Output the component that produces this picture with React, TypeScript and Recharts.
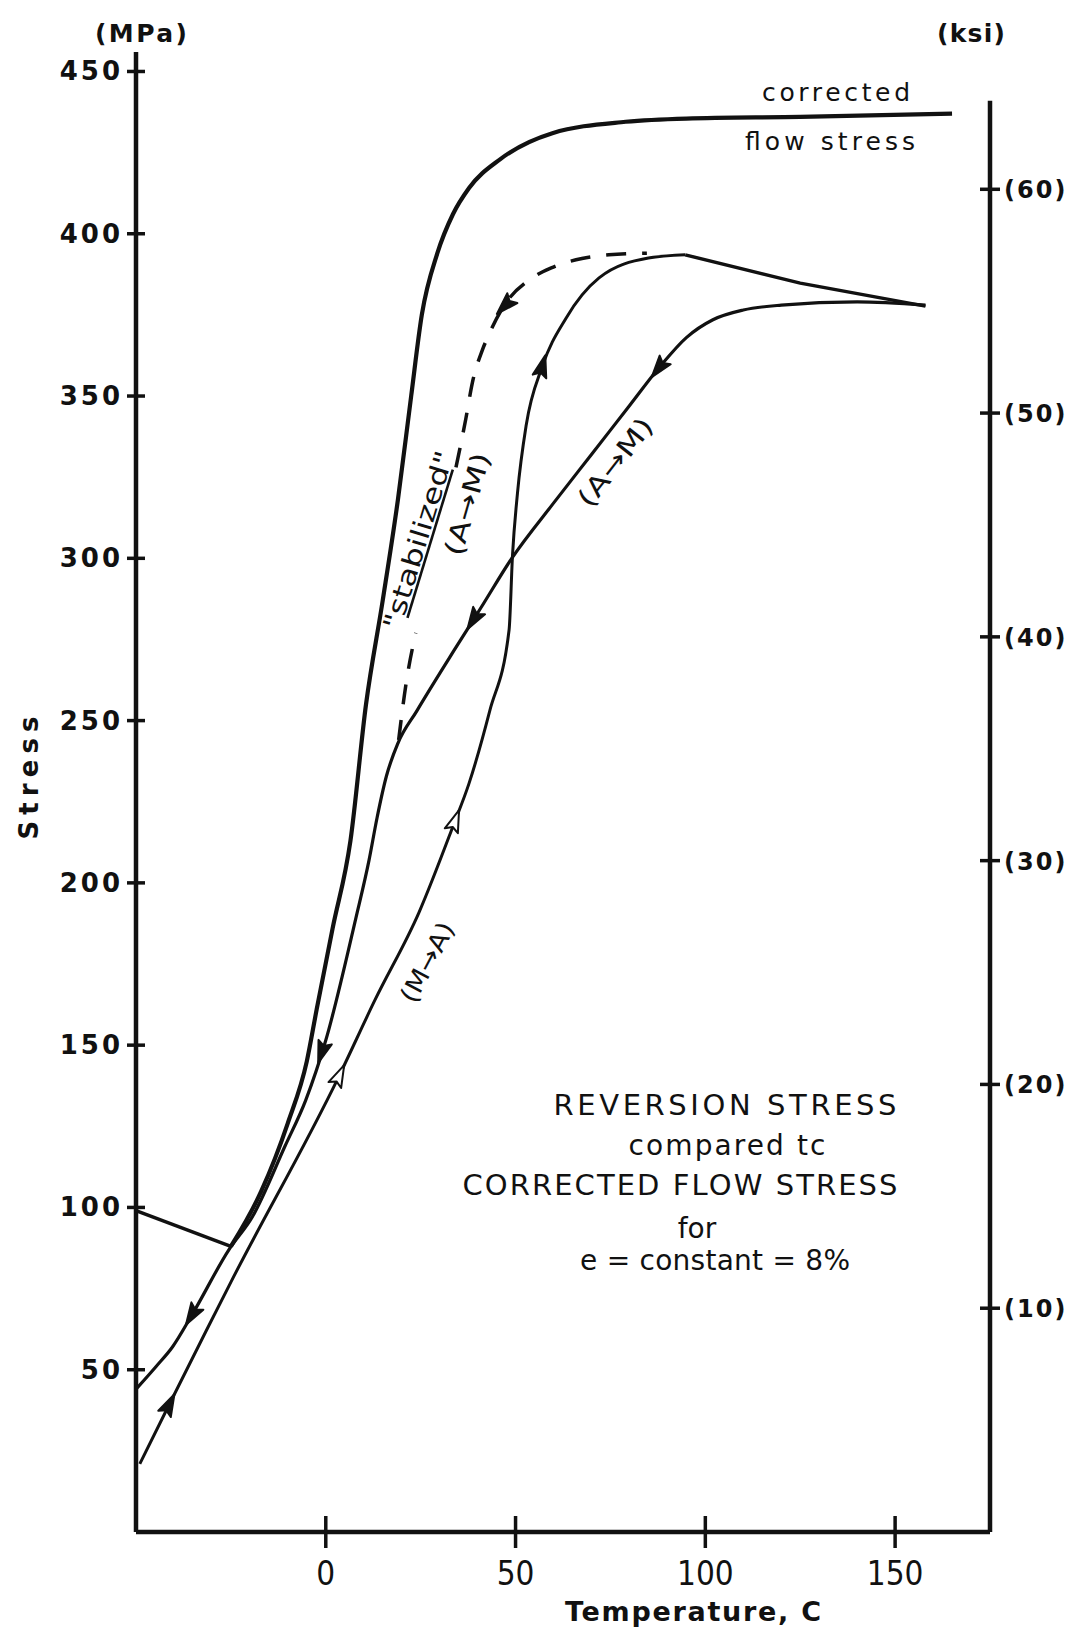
import React from "react";
import {
  ComposedChart,
  Line,
  Scatter,
  XAxis,
  YAxis,
  ReferenceLine,
} from "recharts";

// temperature (C) vs stress (MPa)
const flowLow = [
  { t: -50, s: 99 },
  { t: -25, s: 88 },
];

const flowMain = [
  { t: -25, s: 88 },
  { t: -17, s: 105 },
  { t: -10, s: 126 },
  { t: -5, s: 145 },
  { t: -2.4, s: 161 },
  { t: 1.8, s: 186 },
  { t: 6.5, s: 213 },
  { t: 10.6, s: 255 },
  { t: 15, s: 287 },
  { t: 19, s: 318 },
  { t: 22.5, s: 350 },
  { t: 25.3, s: 375 },
  { t: 29.4, s: 394 },
  { t: 33.5, s: 406 },
  { t: 37.7, s: 414 },
  { t: 46, s: 423 },
  { t: 59.7, s: 431 },
  { t: 79, s: 434.5 },
  { t: 95, s: 435.5 },
  { t: 125, s: 436 },
  { t: 165, s: 437 },
];

// M -> A (heating)
const heatRise = [
  { t: -49, s: 21 },
  { t: -42, s: 37.5 },
  { t: -31.5, s: 62 },
  { t: -25, s: 77 },
  { t: 3.3, s: 140 },
  { t: 13, s: 164 },
  { t: 24.6, s: 191 },
  { t: 33.6, s: 217.7 },
  { t: 37.7, s: 230.5 },
  { t: 43.2, s: 253 },
  { t: 48.3, s: 278 },
  { t: 49.2, s: 301 },
  { t: 50.5, s: 320 },
  { t: 52.8, s: 341 },
  { t: 57, s: 359 },
  { t: 63.3, s: 374 },
  { t: 72, s: 386.4 },
  { t: 85, s: 392.5 },
  { t: 94.7, s: 393.5 },
];

const heatFall = [
  { t: 94.7, s: 393.5 },
  { t: 125, s: 384.8 },
  { t: 158, s: 377.7 },
];

// A -> M (cooling), stored low to high temperature
const coolPath = [
  { t: -50, s: 44 },
  { t: -44.7, s: 51 },
  { t: -40.4, s: 57 },
  { t: -35.2, s: 67 },
  { t: -25.5, s: 87 },
  { t: -19.4, s: 97 },
  { t: -10.7, s: 119 },
  { t: -5.3, s: 133 },
  { t: 0, s: 151.5 },
  { t: 7.9, s: 189 },
  { t: 11.4, s: 207 },
  { t: 13.5, s: 220 },
  { t: 16, s: 233 },
  { t: 19, s: 243 },
  { t: 24, s: 253 },
  { t: 34, s: 272 },
  { t: 41, s: 285 },
  { t: 49, s: 300 },
  { t: 60, s: 317 },
  { t: 70, s: 332 },
  { t: 80, s: 347 },
  { t: 88, s: 359 },
  { t: 95, s: 368 },
  { t: 102, s: 373.5 },
  { t: 110, s: 376.5 },
  { t: 120, s: 378 },
  { t: 140, s: 379 },
  { t: 158, s: 378 },
];

// "stabilized" A -> M (dashed), broken where the label sits
const stabilizedLow = [
  { t: 19.2, s: 244 },
  { t: 21.1, s: 261 },
  { t: 23.7, s: 277 },
];

const stabilizedHigh = [
  { t: 34.3, s: 328 },
  { t: 36.9, s: 343 },
  { t: 38.6, s: 354 },
  { t: 41.2, s: 364 },
  { t: 43, s: 369 },
  { t: 46.5, s: 377 },
  { t: 54.4, s: 386.4 },
  { t: 59.4, s: 389.5 },
  { t: 67.5, s: 392.4 },
  { t: 74.6, s: 393.5 },
  { t: 84.6, s: 394 },
];

const arrowMarks = [
  { curve: "heat", t: -41.3, open: false },
  { curve: "heat", t: 3.5, open: true },
  { curve: "heat", t: 34, open: true },
  { curve: "heat", t: 57, open: false },
  { curve: "cool", t: 87.8, open: false },
  { curve: "cool", t: 39, open: false },
  { curve: "cool", t: -1, open: false },
  { curve: "cool", t: -35.2, open: false },
  { curve: "stab", t: 47.3, open: false },
];

const tempTicks = [0, 50, 100, 150];
const mpaTicks = [50, 100, 150, 200, 250, 300, 350, 400, 450];
const ksiTicks = [10, 20, 30, 40, 50, 60];
const MPA_PER_KSI = 6.895;

const W = 1080;
const H = 1630;
const PAGE_H = 1637;
const TOP = 52;
const BOTTOM = 98;
const LEFT_W = 136;
const RIGHT_W = 90;
const T_DOMAIN = [-50, 175];
const S_DOMAIN = [0, 456];
const SX = (W - LEFT_W - RIGHT_W) / (T_DOMAIN[1] - T_DOMAIN[0]);
const SY = (H - TOP - BOTTOM) / (S_DOMAIN[1] - S_DOMAIN[0]);

const FONT = "'DejaVu Sans', 'Liberation Sans', sans-serif";
const INK = "#111";

const curves: Record<string, { path: { t: number; s: number }[]; forward: boolean }> = {
  heat: { path: heatRise, forward: true },
  cool: { path: coolPath, forward: false },
  stab: { path: stabilizedHigh, forward: false },
};

function arrowPoint(m: { curve: string; t: number; open: boolean }) {
  const { path, forward } = curves[m.curve];
  for (let i = 0; i < path.length - 1; i++) {
    const a = path[i];
    const b = path[i + 1];
    if (m.t >= a.t && m.t <= b.t) {
      const f = (m.t - a.t) / (b.t - a.t);
      let dx = (b.t - a.t) * SX;
      let dy = -(b.s - a.s) * SY;
      if (!forward) {
        dx = -dx;
        dy = -dy;
      }
      return {
        t: m.t,
        s: a.s + f * (b.s - a.s),
        angle: (Math.atan2(dy, dx) * 180) / Math.PI,
        open: m.open,
      };
    }
  }
  return null;
}

const arrowData = arrowMarks.map(arrowPoint).filter(Boolean);

function ArrowHead(props: any) {
  const { cx, cy, payload } = props;
  return (
    <path
      d="M12,0 L-10,-7 L-6,0 L-10,7 Z"
      transform={`translate(${cx},${cy}) rotate(${payload.angle})`}
      fill={payload.open ? "#fff" : INK}
      stroke={INK}
      strokeWidth={2}
      strokeLinejoin="round"
    />
  );
}

function XTick(props: any) {
  const { x, y, payload } = props;
  return (
    <g>
      <line x1={x} x2={x} y1={y - 16} y2={y + 16} stroke={INK} strokeWidth={3.5} />
      <text
        x={x}
        y={y + 53}
        textAnchor="middle"
        fontSize={33}
        fontFamily="'DejaVu Sans Condensed', 'Liberation Sans Narrow', 'DejaVu Sans', sans-serif"
        fill={INK}
      >
        {payload.value}
      </text>
    </g>
  );
}

function LeftTick(props: any) {
  const { x, y, payload } = props;
  return (
    <g>
      <line x1={x - 9} x2={x + 9} y1={y} y2={y} stroke={INK} strokeWidth={3.5} />
      <text
        x={x - 13}
        y={y + 9}
        textAnchor="end"
        fontSize={26}
        fontWeight="bold"
        letterSpacing={3}
        fontFamily={FONT}
        fill={INK}
      >
        {payload.value}
      </text>
    </g>
  );
}

function RightTick(props: any) {
  const { x, y, payload } = props;
  return (
    <g>
      <line x1={x - 10} x2={x + 10} y1={y} y2={y} stroke={INK} strokeWidth={3.5} />
      <text
        x={x + 14}
        y={y + 9}
        textAnchor="start"
        fontSize={24}
        fontWeight="bold"
        letterSpacing={2}
        fontFamily={FONT}
        fill={INK}
      >
        ({payload.value})
      </text>
    </g>
  );
}

function Tilted({ x, y, angle, len, size, children }: any) {
  return (
    <text
      transform={`translate(${x},${y}) rotate(${angle})`}
      y={size * 0.36}
      textAnchor="middle"
      fontSize={size}
      fontFamily={FONT}
      textLength={len}
      lengthAdjust="spacingAndGlyphs"
      fill={INK}
    >
      {children}
    </text>
  );
}

const lineProps = {
  yAxisId: "mpa",
  dataKey: "s",
  stroke: INK,
  dot: false,
  isAnimationActive: false,
};

export default function App() {
  return (
    <div style={{ position: "absolute", left: 0, top: 0, width: W, height: PAGE_H, background: "#fff" }}>
      <ComposedChart width={W} height={H} margin={{ top: TOP, right: 0, bottom: 0, left: 0 }}>
        <XAxis
          dataKey="t"
          type="number"
          domain={T_DOMAIN}
          ticks={tempTicks}
          interval={0}
          allowDataOverflow
          height={BOTTOM}
          tickSize={0}
          tickMargin={0}
          tickLine={false}
          axisLine={{ stroke: INK, strokeWidth: 4.5 }}
          tick={(p: any) => <XTick {...p} />}
        />
        <YAxis
          yAxisId="mpa"
          type="number"
          domain={S_DOMAIN}
          ticks={mpaTicks}
          interval={0}
          allowDataOverflow
          width={LEFT_W}
          tickSize={0}
          tickMargin={0}
          tickLine={false}
          axisLine={{ stroke: INK, strokeWidth: 4.5 }}
          tick={(p: any) => <LeftTick {...p} />}
        />
        <YAxis
          yAxisId="ksi"
          orientation="right"
          type="number"
          domain={[S_DOMAIN[0] / MPA_PER_KSI, S_DOMAIN[1] / MPA_PER_KSI]}
          ticks={ksiTicks}
          interval={0}
          allowDataOverflow
          width={RIGHT_W}
          tickSize={0}
          tickMargin={0}
          tickLine={false}
          axisLine={false}
          tick={(p: any) => <RightTick {...p} />}
        />
        <ReferenceLine
          yAxisId="mpa"
          segment={[
            { x: 175, y: 0 },
            { x: 175, y: 441 },
          ]}
          stroke={INK}
          strokeWidth={4.5}
          ifOverflow="visible"
        />
        <Line {...lineProps} data={flowLow} type="linear" strokeWidth={3.5} />
        <Line {...lineProps} data={flowMain} type="monotone" strokeWidth={4.2} />
        <Line {...lineProps} data={heatRise} type="monotone" strokeWidth={3} />
        <Line {...lineProps} data={heatFall} type="linear" strokeWidth={3.4} />
        <Line {...lineProps} data={coolPath} type="monotone" strokeWidth={3.2} />
        <Line {...lineProps} data={stabilizedLow} type="monotone" strokeWidth={3.5} strokeDasharray="20 16" />
        <Line {...lineProps} data={stabilizedHigh} type="monotone" strokeWidth={3.5} strokeDasharray="20 16" />
        <Scatter yAxisId="mpa" data={arrowData} dataKey="s" shape={ArrowHead} isAnimationActive={false} />
      </ComposedChart>

      <svg
        width={W}
        height={PAGE_H}
        style={{ position: "absolute", left: 0, top: 0, pointerEvents: "none" }}
      >
        <g fontFamily={FONT} fill={INK}>
          <text x={141} y={42} textAnchor="middle" fontSize={25} fontWeight="bold" textLength={92}>
            (MPa)
          </text>
          <text x={971} y={42} textAnchor="middle" fontSize={25} fontWeight="bold" textLength={68}>
            (ksi)
          </text>
          <text
            transform="translate(38,778) rotate(-90)"
            textAnchor="middle"
            fontSize={26}
            fontWeight="bold"
            textLength={123}
          >
            Stress
          </text>
          <text x={693} y={1621} textAnchor="middle" fontSize={27} fontWeight="bold" textLength={256}>
            Temperature, C
          </text>

          <text x={836} y={101} textAnchor="middle" fontSize={25} textLength={148}>
            corrected
          </text>
          <text x={830} y={150} textAnchor="middle" fontSize={25} textLength={170}>
            flow stress
          </text>

          <text x={725} y={1115} textAnchor="middle" fontSize={29} textLength={343}>
            REVERSION  STRESS
          </text>
          <text x={727} y={1155} textAnchor="middle" fontSize={28} textLength={197}>
            compared  tc
          </text>
          <text x={680} y={1195} textAnchor="middle" fontSize={29} textLength={435}>
            CORRECTED FLOW STRESS
          </text>
          <text x={697} y={1238} textAnchor="middle" fontSize={28}>
            for
          </text>
          <text x={715} y={1270} textAnchor="middle" fontSize={28} textLength={270}>
            e = constant = 8%
          </text>
        </g>

        <Tilted x={418} y={540} angle={-73} len={185} size={26}>
          "<tspan textDecoration="underline">stabilized</tspan>"
        </Tilted>
        <Tilted x={467} y={504} angle={-74} len={106} size={26}>
          (A→M)
        </Tilted>
        <Tilted x={615} y={462} angle={-52} len={105} size={26}>
          (A→M)
        </Tilted>
        <Tilted x={427} y={962} angle={-62} len={87} size={25}>
          (M→A)
        </Tilted>
      </svg>
    </div>
  );
}
